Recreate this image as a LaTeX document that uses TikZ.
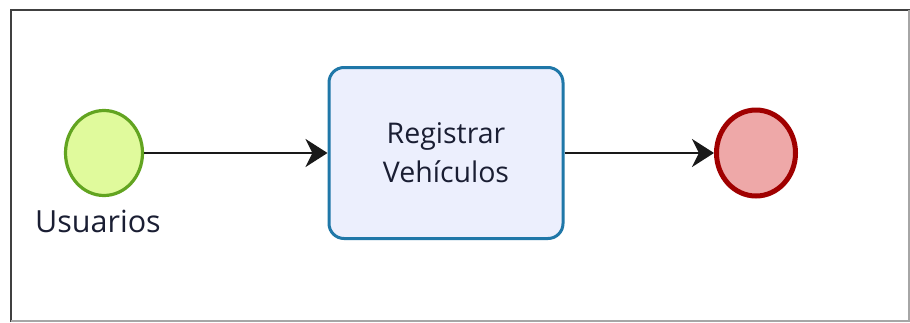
\documentclass[tikz,border=0pt]{standalone}
\usepackage{fontspec}
\setmainfont{Open Sans}
\usetikzlibrary{arrows.meta,shapes.geometric}

\definecolor{usrGreen}{HTML}{62A420}
\definecolor{usrFill}{HTML}{E0FA9C}
\definecolor{taskBlue}{HTML}{1F77A8}
\definecolor{taskFill}{HTML}{ECEFFD}
\definecolor{endRed}{HTML}{A00000}
\definecolor{endFill}{HTML}{EEA8A8}
\definecolor{txtDark}{HTML}{1A1E33}

\begin{document}
\begin{tikzpicture}[x=1pt, y=-1pt,
    startEv/.style={ellipse, draw=usrGreen, fill=usrFill, line width=3.2pt, minimum width=77pt, minimum height=85pt, inner sep=0pt},
    endEv/.style={ellipse, draw=endRed, fill=endFill, line width=5pt, minimum width=79pt, minimum height=86pt, inner sep=0pt},
    taskBox/.style={rectangle, rounded corners=15pt, draw=taskBlue, fill=taskFill, line width=3pt, minimum width=234pt, minimum height=171pt, align=center, font=\fontsize{28.5}{39}\selectfont, text=txtDark},
    flow/.style={line width=2.8pt, black!90, -{Stealth[length=22pt, width=28pt, inset=7pt]}}]
    \useasboundingbox (0,0) rectangle (910,322);
    \fill[white] (0,0) rectangle (910,322);

    % frame
    \draw[black!75, line width=2.5pt] (11,322) -- (11,10) -- (910,10);
    \draw[black!35, line width=1.5pt] (909,10) -- (909,321) -- (11,321);

    \node[startEv] (usr) at (104,153) {};
    \node[taskBox] (reg) at (446,153) {Registrar\\Vehículos};
    \node[endEv] (fin) at (756,153) {};
    \node[anchor=base, text=txtDark, font=\fontsize{30.5}{36}\selectfont] (usrLbl) at (98,232) {Usuarios};

    \draw[flow] (usr) -- (reg);
    \draw[flow] (reg) -- (fin);
\end{tikzpicture}
\end{document}
